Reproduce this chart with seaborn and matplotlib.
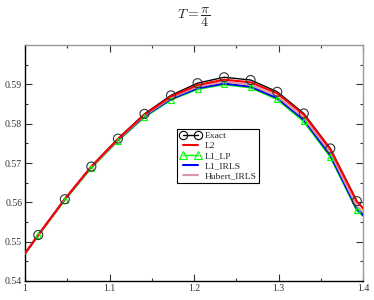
import numpy as np
import pandas as pd
import matplotlib
matplotlib.use("Agg")
import matplotlib.pyplot as plt
import seaborn as sns
from matplotlib.ticker import MultipleLocator
from matplotlib.lines import Line2D

# ---- data ----
x_pts = [1.0157, 1.0471, 1.0785, 1.1100, 1.1414, 1.1728, 1.2042,
         1.2356, 1.2670, 1.2985, 1.3299, 1.3613, 1.3927]
exact = [0.5517, 0.5608, 0.5691, 0.5762, 0.5825, 0.5872, 0.5903,
         0.5918, 0.5911, 0.5881, 0.5826, 0.5737, 0.5603]
x_line = [1.0, 1.0157, 1.0471, 1.0785, 1.1100, 1.1414, 1.1728, 1.2042,
          1.2356, 1.2670, 1.2985, 1.3299, 1.3613, 1.3927, 1.4]
l2 = [0.5470, 0.5517, 0.5608, 0.5691, 0.5761, 0.5823, 0.5869, 0.5898,
      0.5912, 0.5905, 0.5877, 0.5823, 0.5735, 0.5602, 0.5585]
l1_lp = [0.5470, 0.5516, 0.5606, 0.5688, 0.5757, 0.5817, 0.5861, 0.5888,
         0.5900, 0.5892, 0.5862, 0.5806, 0.5716, 0.5580, 0.5566]
l1_irls = [0.5470, 0.5517, 0.5608, 0.5690, 0.5759, 0.5819, 0.5863, 0.5890,
           0.5902, 0.5894, 0.5865, 0.5810, 0.5720, 0.5583, 0.5568]
hubert = [0.5470, 0.5517, 0.5608, 0.5690, 0.5760, 0.5821, 0.5866, 0.5894,
          0.5907, 0.5899, 0.5870, 0.5815, 0.5727, 0.5590, 0.5576]
x_ticks = [1.0, 1.1, 1.2, 1.3, 1.4]
x_ticklabels = ["1", "1.1", "1.2", "1.3", "1.4"]
y_ticks = [0.54, 0.55, 0.56, 0.57, 0.58, 0.59]
y_ticklabels = ["0.54", "0.55", "0.56", "0.57", "0.58", "0.59"]

sns.set_style("ticks")
plt.rcParams["font.family"] = ["Liberation Serif", "DejaVu Serif"]
plt.rcParams["mathtext.fontset"] = "cm"

fig = plt.figure(figsize=(3.74, 3.0), dpi=100)
ax = fig.add_axes([25/374, 1-281/300, 338/374, 236/300])

df_line = pd.DataFrame({"x": x_line, "L2": l2, "L1_LP": l1_lp,
                        "L1_IRLS": l1_irls, "Hubert_IRLS": hubert})
df_pts = pd.DataFrame({"x": x_pts, "Exact": exact, "L1_LP": l1_lp[1:-1]})

lw = 1.5
# Exact line (hidden beneath the others)
sns.lineplot(data=df_pts, x="x", y="Exact", ax=ax, color="black", lw=1.0,
             zorder=1, estimator=None, sort=False)
# Exact markers
sns.scatterplot(data=df_pts, x="x", y="Exact", ax=ax, marker="o", s=42,
                facecolor="none", edgecolor="#333333", linewidth=0.8, zorder=7)
sns.lineplot(data=df_line, x="x", y="L1_LP", ax=ax, color="#00ff00", lw=lw,
             zorder=2, estimator=None, sort=False)
ax.plot(x_pts, l1_lp[1:-1], ls="none", marker="^", markersize=4.5,
        markerfacecolor="none", markeredgecolor="#00ff00",
        markeredgewidth=0.8, zorder=6)
sns.lineplot(data=df_line, x="x", y="L1_IRLS", ax=ax, color="#0000ff", lw=lw,
             zorder=3, estimator=None, sort=False)
sns.lineplot(data=df_line, x="x", y="Hubert_IRLS", ax=ax, color="#d89aa8",
             lw=lw, zorder=4, estimator=None, sort=False)
sns.lineplot(data=df_line, x="x", y="L2", ax=ax, color="#ff0000", lw=lw,
             zorder=5, estimator=None, sort=False)

handles = [
    Line2D([], [], color="black", lw=1.0, marker="o", markersize=6,
           markerfacecolor="none", markeredgecolor="black", markeredgewidth=0.8),
    Line2D([], [], color="#ff0000", lw=lw),
    Line2D([], [], color="#00ff00", lw=1.0, marker="^", markersize=5.5,
           markerfacecolor="none", markeredgecolor="#00ff00", markeredgewidth=0.8),
    Line2D([], [], color="#0000ff", lw=lw),
    Line2D([], [], color="#d89aa8", lw=lw),
]
labels = ["Exact", "L2", "L1_LP", "L1_IRLS", "Hubert_IRLS"]
leg = ax.legend(handles, labels, loc="upper left",
                bbox_to_anchor=((177-25)/338, (281-129)/236),
                numpoints=2, fontsize=6.8, frameon=True, fancybox=False,
                edgecolor="black", framealpha=1, borderpad=0.3,
                labelspacing=0.15, handlelength=2.2, handletextpad=0.4,
                borderaxespad=0)
leg.get_frame().set_linewidth(0.8)

ax.set_xlim(1.0, 1.4)
ax.set_ylim(0.54, 0.60)
ax.set_xticks(x_ticks)
ax.set_xticklabels(x_ticklabels)
ax.set_yticks(y_ticks)
ax.set_yticklabels(y_ticklabels)
ax.xaxis.set_minor_locator(MultipleLocator(0.05))
ax.yaxis.set_minor_locator(MultipleLocator(0.005))
ax.tick_params(which="both", direction="in", top=True, right=True,
               labelsize=7, colors="#333333", labelcolor="#333333", pad=2)
ax.tick_params(which="major", length=5, width=0.8)
ax.tick_params(which="minor", length=2.5, width=0.8)
ax.set_xlabel("")
ax.set_ylabel("")
for s in ["left", "bottom"]:
    ax.spines[s].set_color("black")
    ax.spines[s].set_linewidth(1.0)
for s in ["top", "right"]:
    ax.spines[s].set_color("#999999")
    ax.spines[s].set_linewidth(1.0)
    ax.spines[s].set_visible(True)

fig.text(194/374, 1-17/300, r"$T = \dfrac{\pi}{4}$", ha="center", va="center",
         fontsize=10)

fig.savefig("out.png", dpi=100)
